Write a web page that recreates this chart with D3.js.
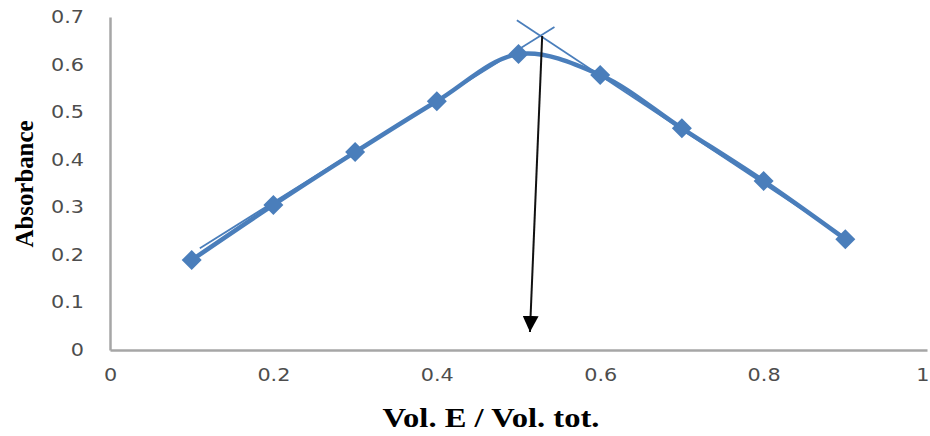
<!DOCTYPE html>
<html>
<head>
<meta charset="utf-8">
<script src="https://cdn.jsdelivr.net/npm/d3@7"></script>
<style>
  html, body { margin: 0; padding: 0; background: #fff; }
</style>
</head>
<body>
<script>
// data
const volFraction = [0.1, 0.2, 0.3, 0.4, 0.5, 0.6, 0.7, 0.8, 0.9]
const absorbance = [0.189, 0.305, 0.416, 0.523, 0.622, 0.578, 0.466, 0.355, 0.233]
const xTicks = [0, 0.2, 0.4, 0.6, 0.8, 1]
const xTickLabels = ['0', '0.2', '0.4', '0.6', '0.8', '1']
const yTicks = [0, 0.1, 0.2, 0.3, 0.4, 0.5, 0.6, 0.7]
const yTickLabels = ['0', '0.1', '0.2', '0.3', '0.4', '0.5', '0.6', '0.7']
const tangentLeft = [[0.110, 0.214], [0.544, 0.679]]
const tangentRight = [[0.498, 0.693], [0.891, 0.246]]
const arrowLine = [[0.529, 0.66], [0.514, 0.038]]

const width = 930
const height = 436
const blue = '#4a7ebb'

const x = d3.scaleLinear().domain([0, 1]).range([110, 927])
const y = d3.scaleLinear().domain([0, 0.7]).range([350, 17])

const svg = d3.select('body').append('svg')
  .attr('width', width)
  .attr('height', height)

const defs = svg.append('defs')
defs.append('marker')
  .attr('id', 'head')
  .attr('viewBox', '0 0 10 10')
  .attr('refX', 10)
  .attr('refY', 5)
  .attr('markerWidth', 8)
  .attr('markerHeight', 8)
  .attr('markerUnits', 'strokeWidth')
  .attr('orient', 'auto')
  .append('path')
  .attr('d', 'M0,0 L10,5 L0,10 Z')
  .attr('fill', '#000')

// axes
const xAxis = svg.append('g')
  .attr('transform', 'translate(0,' + y(0) + ')')
  .call(d3.axisBottom(x).tickValues(xTicks).tickFormat((d, i) => xTickLabels[i]).tickSize(0).tickPadding(19))
svg.append('g')
  .attr('transform', 'translate(' + x(0) + ',0)')
  .call(d3.axisLeft(y).tickValues(yTicks).tickFormat((d, i) => yTickLabels[i]).tickSize(0).tickPadding(26))

svg.selectAll('.domain').attr('stroke', '#a6a6a6').attr('stroke-width', 2.5)
svg.selectAll('.tick text')
  .attr('fill', '#4d4d4d')
  .style('font-family', '"DejaVu Sans", sans-serif')
  .style('font-size', '17px')
  .each(function () {
    const len = this.getComputedTextLength()
    d3.select(this).attr('textLength', len * 1.22).attr('lengthAdjust', 'spacingAndGlyphs')
  })

// last x label sits at the right edge: keep it inside the window
xAxis.selectAll('.tick text')
  .filter(d => d === 1)
  .attr('text-anchor', 'end')
  .attr('x', width - 1 - x(1))

// smoothed data line
const line = d3.line()
  .x((d, i) => x(volFraction[i]))
  .y(d => y(d))
  .curve(d3.curveCatmullRom.alpha(0.5))

svg.append('path')
  .datum(absorbance)
  .attr('d', line)
  .attr('fill', 'none')
  .attr('stroke', blue)
  .attr('stroke-width', 4.5)

// tangent lines
const straight = d3.line().x(d => x(d[0])).y(d => y(d[1]))
svg.selectAll('.tangent')
  .data([tangentLeft, tangentRight])
  .enter().append('path')
  .attr('class', 'tangent')
  .attr('d', straight)
  .attr('fill', 'none')
  .attr('stroke', blue)
  .attr('stroke-width', 1.8)

// markers
svg.selectAll('.pt')
  .data(absorbance)
  .enter().append('path')
  .attr('class', 'pt')
  .attr('transform', (d, i) => 'translate(' + x(volFraction[i]) + ',' + y(d) + ') rotate(45)')
  .attr('d', d3.symbol().type(d3.symbolSquare).size(200))
  .attr('fill', blue)

// arrow
svg.append('path')
  .attr('d', straight(arrowLine))
  .attr('stroke', '#111')
  .attr('stroke-width', 2)
  .attr('marker-end', 'url(#head)')

// axis titles
svg.append('text')
  .attr('x', 491)
  .attr('y', 427)
  .attr('text-anchor', 'middle')
  .style('font-family', '"Liberation Serif", "Times New Roman", serif')
  .style('font-weight', 'bold')
  .style('font-size', '27px')
  .attr('textLength', 217)
  .attr('lengthAdjust', 'spacingAndGlyphs')
  .text('Vol. E / Vol. tot.')

svg.append('text')
  .attr('transform', 'translate(33,184) rotate(-90)')
  .attr('text-anchor', 'middle')
  .style('font-family', '"Liberation Serif", "Times New Roman", serif')
  .style('font-weight', 'bold')
  .style('font-size', '26px')
  .attr('textLength', 127)
  .attr('lengthAdjust', 'spacingAndGlyphs')
  .text('Absorbance')
</script>
</body>
</html>
